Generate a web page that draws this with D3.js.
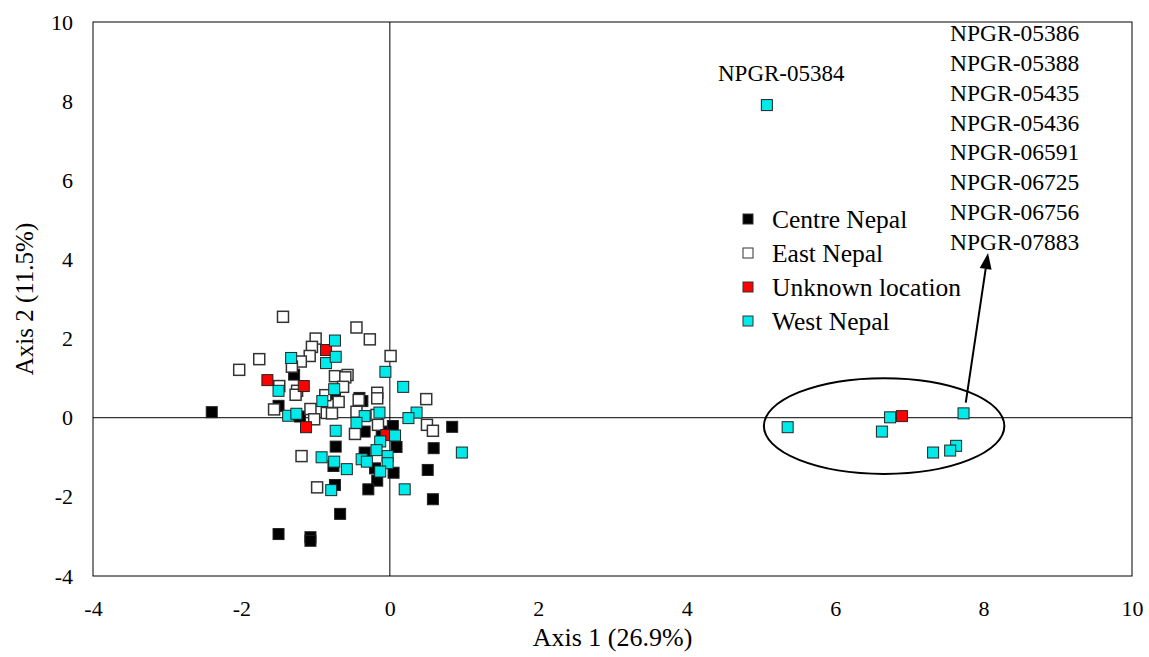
<!DOCTYPE html>
<html>
<head>
<meta charset="utf-8">
<script src="https://cdn.jsdelivr.net/npm/d3@7"></script>
<style>
  body { margin: 0; background: #fff; }
  svg { font-family: "Liberation Serif", "Times New Roman", serif; }
</style>
</head>
<body>
<svg id="chart" width="1149" height="657"></svg>
<script>
// scores, [axis1, axis2]
var centreNepal = [
    [-2.40, 0.14], [-1.50, 0.30], [-1.29, 1.09], [-1.21, 0.03], [-1.50, -2.94],
    [-1.07, -3.02], [-1.07, -3.11], [-0.67, -2.43], [-0.74, -1.70], [-0.76, -1.22],
    [-0.73, -0.73], [-0.74, 0.60], [-0.41, 0.50], [-0.37, 0.42], [-0.34, -0.35],
    [-0.11, -0.35], [0.04, -0.21], [0.09, -0.74], [-0.34, -0.88], [-0.20, -1.28],
    [0.05, -1.39], [-0.17, -1.59], [-0.29, -1.81], [0.51, -1.32], [0.59, -0.77],
    [0.84, -0.23], [0.58, -2.06]
];
var eastNepal = [
    [-1.44, 2.55], [-1.00, 2.00], [-1.05, 1.79], [-1.08, 1.56], [-1.20, 1.42],
    [-1.76, 1.48], [-1.32, 1.29], [-2.03, 1.21], [-1.49, 0.80], [-1.25, 0.68],
    [-1.27, 0.58], [-1.56, 0.21], [-1.07, 0.22], [-1.02, -0.04], [-0.85, 0.12],
    [-0.45, 2.28], [-0.27, 1.98], [0.01, 1.56], [-0.74, 1.05], [-0.57, 1.08],
    [-0.60, 1.02], [-0.63, 0.78], [-0.17, 0.63], [-0.17, 0.49], [0.49, 0.47],
    [-0.42, 0.45], [-0.69, 0.40], [-0.87, 0.57], [-0.78, 0.11], [-0.45, 0.15],
    [-0.18, 0.07], [0.50, -0.18], [0.58, -0.33], [-0.47, -0.41], [-1.19, -0.97],
    [-0.98, -1.76], [-0.16, -0.18]
];
var unknownLocation = [
    [-0.86, 1.71], [-1.65, 0.95], [-1.16, 0.80], [-1.13, -0.24], [-0.05, -0.44],
    [6.90, 0.04]
];
var westNepal = [
    [-1.33, 1.51], [-1.50, 0.68], [-1.37, 0.05], [-1.26, 0.10], [-0.91, 0.42],
    [-0.86, 1.38], [-0.74, 1.95], [-0.73, 1.54], [-0.06, 1.16], [0.18, 0.78],
    [-0.75, 0.72], [-0.14, 0.13], [0.36, 0.13], [-0.34, 0.04], [0.25, -0.01],
    [-0.45, -0.13], [-0.73, -0.33], [0.07, -0.45], [-0.13, -0.60], [0.97, -0.88],
    [-0.18, -0.82], [-0.03, -0.97], [-0.38, -1.05], [-0.31, -1.11], [-0.75, -1.11],
    [-0.92, -1.00], [-0.03, -1.15], [-0.58, -1.30], [-0.13, -1.36], [-0.79, -1.83],
    [0.20, -1.81], [5.36, -0.24], [6.74, 0.01], [6.63, -0.35], [7.73, 0.11],
    [7.32, -0.88], [7.63, -0.71], [7.55, -0.83], [5.08, 7.90]
];

var seriesNames = ["Centre Nepal", "East Nepal", "Unknown location", "West Nepal"];
var seriesColors = ["#000000", "#ffffff", "#ff0000", "#00eaea"];
var xTicks = [-4, -2, 0, 2, 4, 6, 8, 10];
var yTicks = [-4, -2, 0, 2, 4, 6, 8, 10];
var xTitle = "Axis 1 (26.9%)";
var yTitle = "Axis 2 (11.5%)";
var singleLabel = "NPGR-05384";
var groupLabels = ["NPGR-05386", "NPGR-05388", "NPGR-05435", "NPGR-05436",
    "NPGR-06591", "NPGR-06725", "NPGR-06756", "NPGR-07883"];
// ellipse round the right-hand group: centre, radii (axis units)
var groupEllipse = { cx: 6.66, cy: -0.21, rx: 1.62, ry: 1.21 };
var arrowFrom = [7.76, 0.38];
var arrowTo = [8.06, 4.16];

var margin = { top: 22, right: 17, bottom: 81, left: 93 };
var svg = d3.select("#chart");
var width = +svg.attr("width") - margin.left - margin.right;
var height = +svg.attr("height") - margin.top - margin.bottom;

var x = d3.scaleLinear().domain([-4, 10]).range([0, width]);
var y = d3.scaleLinear().domain([-4, 10]).range([height, 0]);

var g = svg.append("g")
    .attr("transform", "translate(" + margin.left + "," + margin.top + ")");

// zero lines
g.append("line")
    .attr("x1", x(0)).attr("x2", x(0))
    .attr("y1", 0).attr("y2", height)
    .attr("stroke", "#000").attr("stroke-width", 1);
g.append("line")
    .attr("x1", 0).attr("x2", width)
    .attr("y1", y(0)).attr("y2", y(0))
    .attr("stroke", "#000").attr("stroke-width", 1);

g.append("rect")
    .attr("width", width).attr("height", height)
    .attr("fill", "none").attr("stroke", "#000").attr("stroke-width", 1);

// plain hyphen for negatives, like the original
var fmt = function(d) { return String(d); };

var xAxis = g.append("g")
    .attr("transform", "translate(0," + height + ")")
    .call(d3.axisBottom(x).tickValues(xTicks).tickFormat(fmt).tickSize(0).tickPadding(24));
var yAxis = g.append("g")
    .call(d3.axisLeft(y).tickValues(yTicks).tickFormat(fmt).tickSize(0).tickPadding(20));

[xAxis, yAxis].forEach(function(a) {
    a.select(".domain").remove();
    a.selectAll("text")
        .attr("fill", "#000")
        .style("font-family", "Liberation Serif")
        .style("font-size", "22px");
});

svg.append("text")
    .attr("x", margin.left + width / 2)
    .attr("y", 646)
    .attr("text-anchor", "middle")
    .style("font-size", "26px")
    .text(xTitle);

svg.append("text")
    .attr("transform", "translate(33," + (margin.top + 277) + ") rotate(-90)")
    .attr("text-anchor", "middle")
    .style("font-size", "25px")
    .text(yTitle);

// ellipse and arrow
g.append("ellipse")
    .attr("cx", x(groupEllipse.cx))
    .attr("cy", y(groupEllipse.cy))
    .attr("rx", x(groupEllipse.cx + groupEllipse.rx) - x(groupEllipse.cx))
    .attr("ry", y(groupEllipse.cy) - y(groupEllipse.cy + groupEllipse.ry))
    .attr("fill", "none").attr("stroke", "#000").attr("stroke-width", 2);

var ax0 = x(arrowFrom[0]), ay0 = y(arrowFrom[1]);
var ax1 = x(arrowTo[0]), ay1 = y(arrowTo[1]);
var ang = Math.atan2(ay1 - ay0, ax1 - ax0);
var headLen = 16, headW = 6;
var bx = ax1 - headLen * Math.cos(ang), by = ay1 - headLen * Math.sin(ang);

g.append("line")
    .attr("x1", ax0).attr("y1", ay0)
    .attr("x2", bx).attr("y2", by)
    .attr("stroke", "#000").attr("stroke-width", 2);
g.append("path")
    .attr("d", "M" + ax1 + "," + ay1 +
        "L" + (bx + headW * Math.sin(ang)) + "," + (by - headW * Math.cos(ang)) +
        "L" + (bx - headW * Math.sin(ang)) + "," + (by + headW * Math.cos(ang)) + "Z")
    .attr("fill", "#000");

// points, drawn series by series so West ends on top
var allSeries = [centreNepal, eastNepal, unknownLocation, westNepal];
var size = 11;

allSeries.forEach(function(data, i) {
    g.append("g")
        .selectAll("rect")
        .data(data)
        .enter()
        .append("rect")
        .attr("x", function(d) { return x(d[0]) - size / 2; })
        .attr("y", function(d) { return y(d[1]) - size / 2; })
        .attr("width", size)
        .attr("height", size)
        .attr("fill", seriesColors[i])
        .attr("stroke", i === 1 ? "#333" : "#222")
        .attr("stroke-width", i === 1 ? 1.5 : 1);
});

// point labels
svg.append("text")
    .attr("x", 718).attr("y", 73)
    .attr("dy", "0.35em")
    .style("font-size", "23px")
    .text(singleLabel);

svg.append("g")
    .selectAll("text")
    .data(groupLabels)
    .enter()
    .append("text")
    .attr("x", 950)
    .attr("y", function(d, i) { return 33 + i * 29.8; })
    .attr("dy", "0.35em")
    .style("font-size", "23.5px")
    .text(function(d) { return d; });

// legend
var legend = svg.append("g")
    .attr("transform", "translate(743,219)");

var item = legend.selectAll("g")
    .data(seriesNames)
    .enter()
    .append("g")
    .attr("transform", function(d, i) { return "translate(0," + i * 34 + ")"; });

item.append("rect")
    .attr("x", 0).attr("y", -5)
    .attr("width", 10).attr("height", 10)
    .attr("fill", function(d, i) { return seriesColors[i]; })
    .attr("stroke", "#333").attr("stroke-width", 1);

item.append("text")
    .attr("x", 29)
    .attr("dy", "0.35em")
    .style("font-size", "25.5px")
    .text(function(d) { return d; });
</script>
</body>
</html>
